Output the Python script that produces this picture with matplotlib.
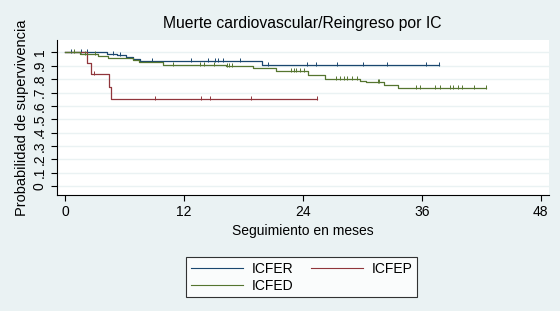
import matplotlib.pyplot as plt
import numpy as np

plt.rcParams['font.family'] = ['Liberation Sans', 'DejaVu Sans']

# Kaplan-Meier steps (months, survival)
icfer_t = [0, 4.2, 5.2, 6.1, 6.8, 7.5, 19.9, 37.7]
icfer_s = [1.0, 0.99, 0.977, 0.965, 0.948, 0.937, 0.905, 0.905]
icfer_cens = [0.6, 1.6, 2.2, 4.8, 5.5, 8.8, 12.7, 14.4, 15.1, 15.4, 15.9, 17.6,
              20.5, 24.4, 25.3, 27.4, 30.1, 32.5, 36.4, 37.7]

icfep_t = [0, 2.2, 2.6, 4.4, 4.6, 25.4]
icfep_s = [1.0, 0.918, 0.838, 0.743, 0.651, 0.651]
icfep_cens = [2.9, 9.1, 13.7, 14.6, 18.7, 25.4]

icfed_t = [0, 1.5, 2.5, 3.3, 4.3, 5.3, 6.8, 7.4, 9.9, 16.2, 19.0, 21.3,
           24.5, 26.2, 29.7, 30.4, 32.2, 33.6, 42.5]
icfed_s = [1.0, 0.99, 0.985, 0.97, 0.96, 0.955, 0.942, 0.927, 0.907, 0.897, 0.88, 0.864,
           0.828, 0.803, 0.785, 0.778, 0.753, 0.733, 0.733]
icfed_cens = [0.9, 2.0, 3.0, 10.9, 13.6, 14.0, 15.0, 16.3, 16.5, 16.8, 22.8, 23.1,
              23.3, 23.7, 24.1, 27.3, 27.7, 28.1, 28.4, 28.9, 29.4, 31.6, 31.7,
              35.4, 35.8, 37.3, 37.8, 38.8, 39.1, 39.6, 40.0, 41.3, 42.5]

groups = ['ICFER', 'ICFEP', 'ICFED']
colors = ['#1a476f', '#90353b', '#55752f']
series = [(icfer_t, icfer_s, icfer_cens), (icfep_t, icfep_s, icfep_cens),
          (icfed_t, icfed_s, icfed_cens)]

bg = '#eaf2f3'
fig = plt.figure(figsize=(5.6, 3.11), dpi=100, facecolor=bg)
ax = fig.add_axes([0.101, 0.373, 0.879, 0.498])
ax.set_facecolor('white')

ax.set_xlim(-0.87, 48.8)
ax.set_ylim(-0.067, 1.092)
yt = np.round(np.arange(0, 1.01, 0.1), 1)
ax.set_yticks(yt)
ax.set_yticklabels(['0'] + ['.%d' % int(round(v * 10)) for v in yt[1:-1]] + ['1'],
                   rotation=90, va='center', fontsize=10)
ax.set_xticks([0, 12, 24, 36, 48])
ax.tick_params(axis='x', labelsize=10, length=4, width=0.8, pad=3)
ax.tick_params(axis='y', length=4, width=0.8, pad=3)
for v in yt:
    ax.axhline(v, color=bg, lw=1.0, zorder=0)
for s in ['top', 'right']:
    ax.spines[s].set_visible(False)
for s in ['left', 'bottom']:
    ax.spines[s].set_linewidth(0.8)

handles = {}
for name, col, (t, s, c) in zip(groups, colors, series):
    h, = ax.step(t, s, where='post', color=col, lw=0.9, label=name)
    handles[name] = h
    # value of step function at censor times
    idx = np.searchsorted(t, c, side='right') - 1
    cy = np.array(s)[idx]
    ax.plot(c, cy + 0.008, ls='none', marker='|', ms=3.5, mew=0.7, color=col)

ax.set_title('Muerte cardiovascular/Reingreso por IC', fontsize=11.3, pad=9)
ax.set_xlabel('Seguimiento en meses', fontsize=10, labelpad=4)
ax.set_ylabel('Probabilidad de supervivencia', fontsize=10.5, labelpad=3)

leg = fig.legend([handles['ICFER'], handles['ICFED'], handles['ICFEP']],
                 ['ICFER', 'ICFED', 'ICFEP'], ncol=2, loc='upper center',
                 bbox_to_anchor=(0.539, 0.196), fontsize=10, frameon=True,
                 fancybox=False, edgecolor='black', facecolor='white',
                 handlelength=3.7, handletextpad=0.65, columnspacing=1.3,
                 borderpad=0.35, labelspacing=0.2)
leg.get_frame().set_linewidth(0.8)
for ln in leg.get_lines():
    ln.set_linewidth(0.8)

fig.savefig('out.png', dpi=100, facecolor=bg)
